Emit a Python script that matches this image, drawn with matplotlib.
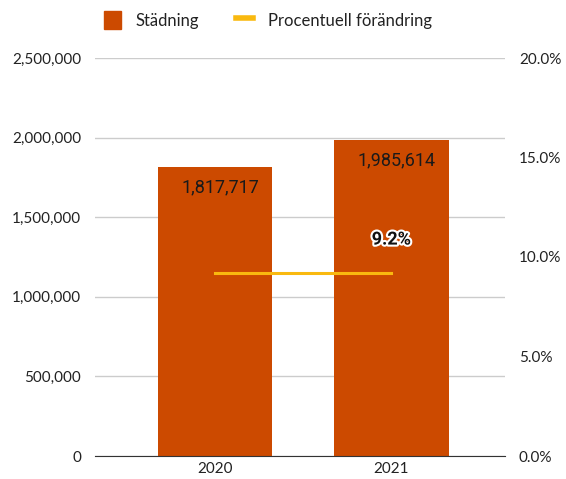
import matplotlib
matplotlib.use("Agg")
import matplotlib.pyplot as plt
import matplotlib.patheffects as pe
from matplotlib.ticker import FuncFormatter
from matplotlib.lines import Line2D
from matplotlib.patches import Patch

years = ["2020", "2021"]
stadning = [1817717, 1985614]
pct_change = [9.2, 9.2]
pct_label = "9.2%"

bar_color = "#CC4A00"
line_color = "#F9B90F"

fig = plt.figure(figsize=(5.66, 4.79), dpi=100)
ax = fig.add_axes([95/566, 1-456/479, 410/566, 398/479])
ax2 = ax.twinx()

x = list(range(len(years)))
ax.bar(x, stadning, width=0.65, color=bar_color, zorder=2)
ax.set_xlim(-0.68, 1.645)
ax.set_ylim(0, 2500000)
ax.set_yticks([0, 500000, 1000000, 1500000, 2000000, 2500000])
ax.yaxis.set_major_formatter(FuncFormatter(lambda v, p: f"{int(v):,}"))
ax.grid(axis="y", color="#CCCCCC", linewidth=1, zorder=0)
ax.set_axisbelow(True)
ax.set_xticks(x)
ax.set_xticklabels(years)
for s in ["top", "left", "right"]:
    ax.spines[s].set_visible(False)
ax.spines["bottom"].set_color("#333333")
ax.tick_params(axis="y", length=0, pad=10, labelsize=11, labelcolor="#222222")
ax.tick_params(axis="x", length=0, pad=4, labelsize=11, labelcolor="#222222")
for lab in ax.get_yticklabels() + ax.get_xticklabels():
    lab.set_family("Lato")

for xi, v in zip(x, stadning):
    ax.annotate(f"{v:,}", (xi, v), xytext=(4, -15), textcoords="offset points",
                ha="center", va="center", fontsize=13, family="Roboto", color="#1a1a1a")

ax2.plot(x, pct_change, color=line_color, linewidth=2.2, zorder=3)
ax2.set_ylim(0, 20)
ax2.set_yticks([0, 5, 10, 15, 20])
ax2.yaxis.set_major_formatter(FuncFormatter(lambda v, p: f"{v:.1f}%"))
for s in ["top", "left", "right", "bottom"]:
    ax2.spines[s].set_visible(False)
ax2.tick_params(axis="y", length=0, pad=10, labelsize=11, labelcolor="#222222")
for lab in ax2.get_yticklabels():
    lab.set_family("Lato")
ax2.annotate(pct_label, (x[-1], pct_change[-1]), xytext=(0, 24), textcoords="offset points",
             ha="center", va="center", fontsize=13, fontweight="bold", family="Roboto",
             color="#111111",
             path_effects=[pe.withStroke(linewidth=3, foreground="white")])

handles = [Patch(color=bar_color, label="Städning"),
           Line2D([0], [0], color=line_color, linewidth=4, label="Procentuell förändring")]
fig.legend(handles=handles, loc="center", bbox_to_anchor=(268/566, 1-20/479), ncol=2,
           frameon=False, prop={"family": "Lato", "size": 12}, handlelength=1.0,
           handleheight=1.3, columnspacing=2.2, handletextpad=0.9, labelcolor="#222222")

fig.savefig("out.png", dpi=100)
